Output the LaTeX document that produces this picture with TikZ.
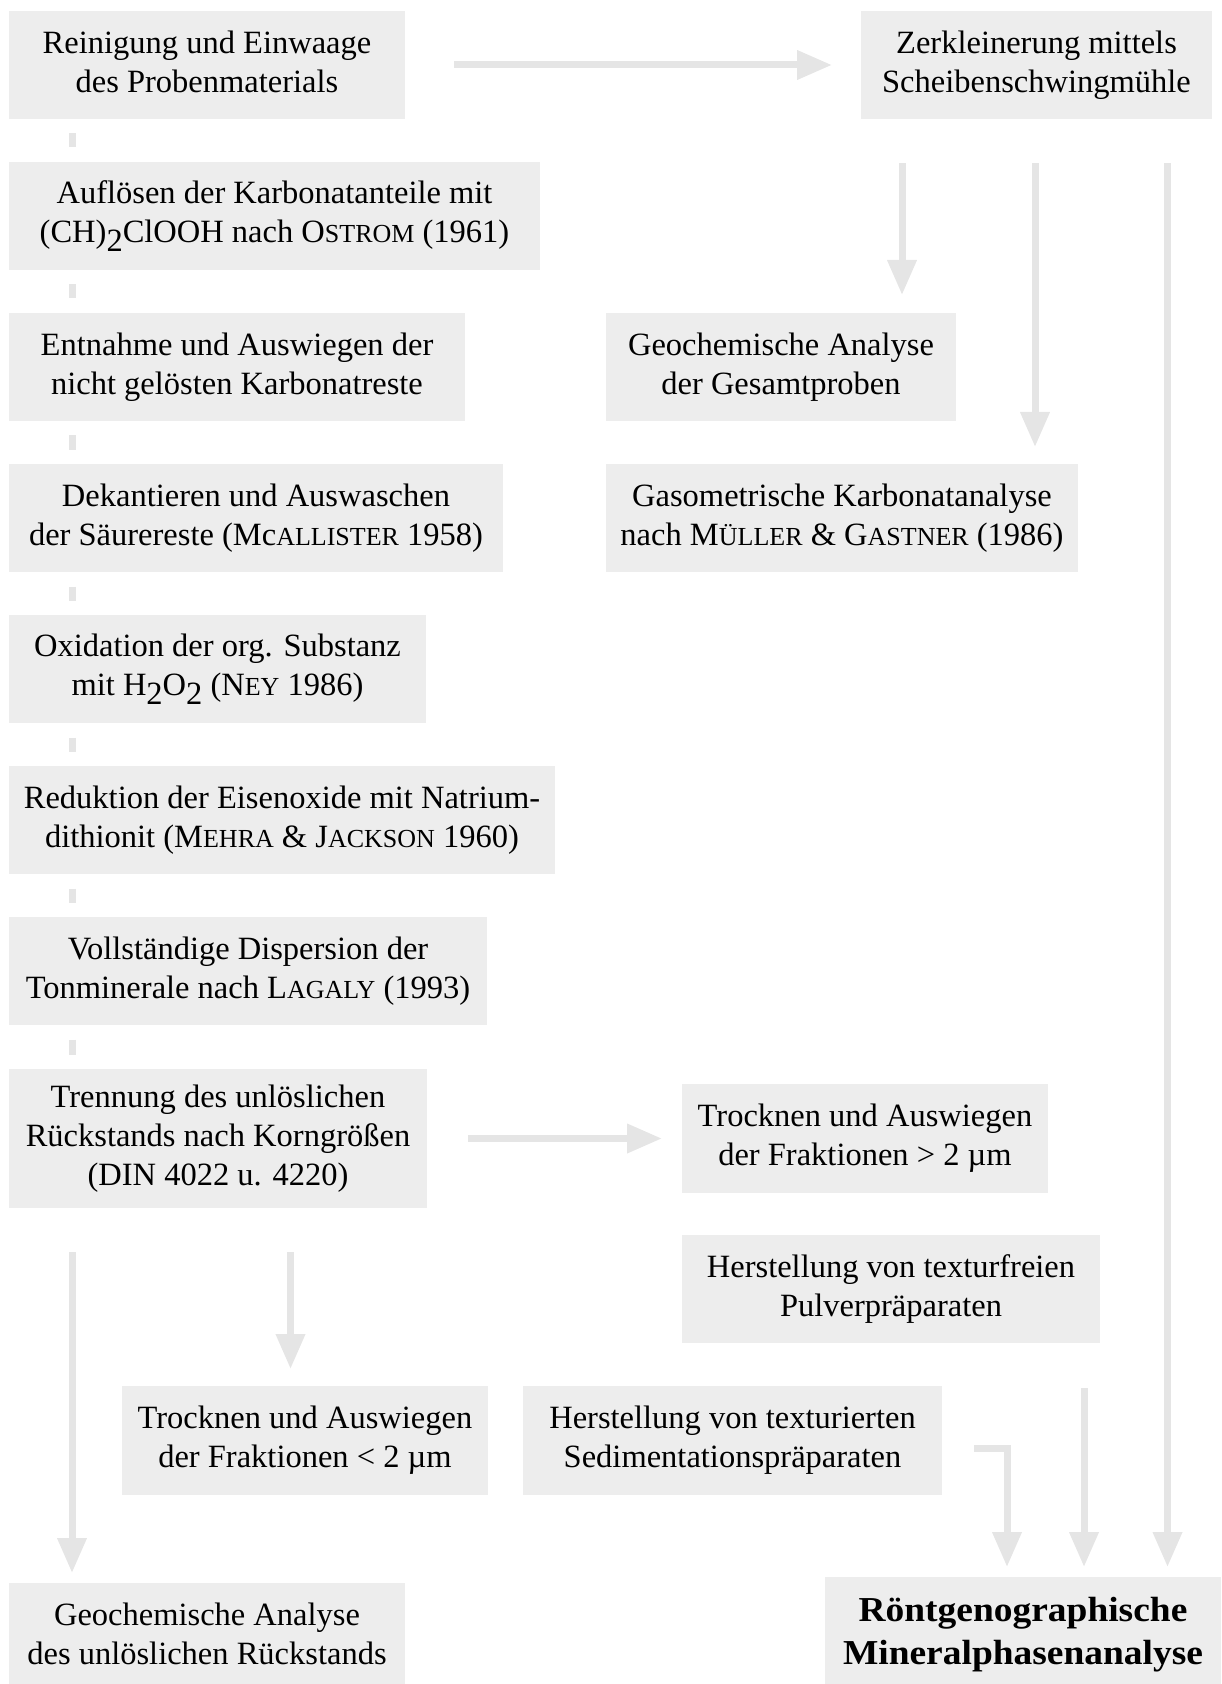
\documentclass[tikz,border=0pt]{standalone}
\usepackage{fontspec}
\setmainfont{Liberation Serif}
\newfontfamily\wideserif[FakeStretch=1.07]{Liberation Serif}
\usetikzlibrary{arrows.meta}
\definecolor{boxgray}{RGB}{237,237,237}
\definecolor{arrgray}{RGB}{229,229,229}
\newcommand{\ksc}[1]{{\fontsize{13pt}{13pt}\selectfont #1}}
\newcommand{\lowtwo}{\raisebox{-4.5pt}{2}}
\newcommand{\bstrut}{\rule[-2.9pt]{0pt}{16.3pt}}
\begin{document}
\begin{tikzpicture}[x=0.5pt,y=-0.5pt,
  box/.style={fill=boxgray, inner sep=0pt, outer sep=0pt, align=center,
    minimum height=54pt,
    font=\fontsize{16.25pt}{19.5pt}\selectfont,
    execute at begin node=\bstrut, execute at end node=\bstrut},
  conn/.style={draw=arrgray, line width=3.5pt, line join=miter,
    -{Triangle[width=14pt,length=17.5pt]}},
  stub/.style={draw=arrgray, line width=3.5pt, shorten <=7.25pt, shorten >=7.25pt}]
\useasboundingbox (0,0) rectangle (1221,1684);
\clip (0,0) rectangle (1221,1684);

% left column
\node[box, minimum width=198pt] (b1) at (207,65) {Reinigung und Einwaage\\des Probenmaterials};
\node[box, minimum width=265.5pt] (b2) at (274.5,216) {Auflösen der Karbonatanteile mit\\(CH)\lowtwo ClOOH nach O\ksc{STROM} (1961)};
\node[box, minimum width=228pt] (b3) at (237,367) {Entnahme und Auswiegen der\\nicht gelösten Karbonatreste};
\node[box, minimum width=247pt] (b4) at (256,518) {Dekantieren und Auswaschen\\der Säurereste (Mc\ksc{ALLISTER} 1958)};
\node[box, minimum width=208.5pt] (b5) at (217.5,669) {Oxidation der org. Substanz\\mit H\lowtwo O\lowtwo{} (N\ksc{EY} 1986)};
\node[box, minimum width=273pt] (b6) at (282,820) {Reduktion der Eisenoxide mit Natrium-\\dithionit (M\ksc{EHRA} \& J\ksc{ACKSON} 1960)};
\node[box, minimum width=239pt] (b7) at (248,971) {Vollständige Dispersion der\\Tonminerale nach L\ksc{AGALY} (1993)};
\node[box, minimum width=209pt, minimum height=69.5pt] (b8) at (218,1138.5) {Trennung des unlöslichen\\Rückstands nach Korngrößen\\(DIN 4022 u. 4220)};

% right side
\node[box, minimum width=175.5pt] (zerk) at (1036.5,65) {Zerkleinerung mittels\\Scheibenschwingmühle};
\node[box, minimum width=175pt] (geoges) at (781,367) {Geochemische Analyse\\der Gesamtproben};
\node[box, minimum width=236pt] (gaso) at (842,518) {Gasometrische Karbonatanalyse\\nach M\ksc{ÜLLER} \& G\ksc{ASTNER} (1986)};
\node[box, minimum width=183pt, minimum height=54.5pt] (tro1) at (865,1138.5) {Trocknen und Auswiegen\\der Fraktionen > 2 µm};
\node[box, minimum width=209pt] (hfrei) at (891,1289) {Herstellung von texturfreien\\Pulverpräparaten};
\node[box, minimum width=183pt, minimum height=54.5pt] (tro2) at (305,1440.5) {Trocknen und Auswiegen\\der Fraktionen < 2 µm};
\node[box, minimum width=209.5pt, minimum height=54.5pt] (htex) at (732.5,1440.5) {Herstellung von texturierten\\Sedimentationspräparaten};
\node[box, minimum width=198pt] (geounl) at (207,1637) {Geochemische Analyse\\des unlöslichen Rückstands};
\node[box, minimum width=198pt, minimum height=57.5pt,
  font=\wideserif\bfseries\fontsize{17.5pt}{21.5pt}\selectfont] (roent) at (1023,1634.5) {Röntgenographische\\Mineralphasenanalyse};

% column coordinates
\coordinate (cL) at (72,0);
\coordinate (cZa) at (902,0);
\coordinate (cZb) at (1035,0);
\coordinate (cZc) at (1167.5,0);
\coordinate (cT) at (290.5,0);
\coordinate (cH) at (1084,0);
\coordinate (cB) at (1007,0);

% stubs between the left steps
\foreach \a/\b in {b1/b2,b2/b3,b3/b4,b4/b5,b5/b6,b6/b7,b7/b8}
  \draw[stub] (\a.south -| cL) -- (\b.north -| cL);

% arrows
\draw[conn, shorten <=24.5pt, shorten >=14.5pt] (b1.east) -- (zerk.west);
\draw[conn, shorten <=22pt, shorten >=9pt] (zerk.south -| cZa) -- (geoges.north -| cZa);
\draw[conn, shorten <=22pt, shorten >=8.5pt] (zerk.south -| cZb) -- (gaso.north -| cZb);
\draw[conn, shorten <=22pt, shorten >=5pt] (zerk.south -| cZc) -- (roent.north -| cZc);
\draw[conn, shorten <=20.5pt, shorten >=10pt] (b8.east) -- (tro1.west);
\draw[conn, shorten <=22pt, shorten >=5pt] (b8.south -| cL) -- (geounl.north -| cL);
\draw[conn, shorten <=22pt, shorten >=8.5pt] (b8.south -| cT) -- (tro2.north -| cT);
\draw[conn, shorten <=22.5pt, shorten >=5pt] (hfrei.south -| cH) -- (roent.north -| cH);
\draw[conn, shorten >=5pt] ([xshift=16pt,yshift=-4pt]htex.east) -| (roent.north -| cB);
\end{tikzpicture}
\end{document}
